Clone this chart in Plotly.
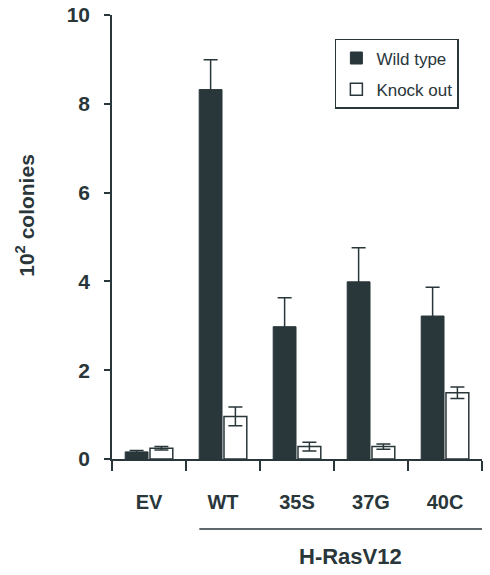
import plotly.graph_objects as go

categories = ["EV", "WT", "35S", "37G", "40C"]
wild_type = [0.16, 8.32, 2.98, 3.99, 3.22]
wild_type_err = [0.03, 0.67, 0.65, 0.77, 0.65]
knock_out = [0.24, 0.96, 0.28, 0.28, 1.49]
knock_out_err = [0.04, 0.21, 0.10, 0.06, 0.13]
y_ticks = [0, 2, 4, 6, 8, 10]

DARK = "#29363a"
FONT = "Liberation Sans, Arial, sans-serif"

fig = go.Figure()
fig.add_trace(go.Bar(
    name="Wild type", x=categories, y=wild_type,
    marker=dict(color=DARK, line=dict(color=DARK, width=1)),
    error_y=dict(type="data", array=wild_type_err, symmetric=True,
                 color=DARK, thickness=1.5, width=7),
    legendgroup="a",
))
fig.add_trace(go.Bar(
    name="Knock out", x=categories, y=knock_out,
    marker=dict(color="white", line=dict(color=DARK, width=1.5)),
    error_y=dict(type="data", array=knock_out_err, symmetric=True,
                 color=DARK, thickness=1.5, width=7),
    legendgroup="b",
))

fig.update_layout(
    width=490, height=575,
    margin=dict(l=111.5, r=7.5, t=15.3, b=115.7),
    plot_bgcolor="white", paper_bgcolor="white",
    barmode="group", bargap=0.33, bargroupgap=0.08,
    font=dict(family=FONT, color=DARK),
    showlegend=True,
    legend=dict(
        x=0.9375, xanchor="right", y=0.946, yanchor="top",
        bordercolor=DARK, borderwidth=1.5, bgcolor="white",
        font=dict(size=17, family=FONT, color=DARK),
        tracegroupgap=6, itemwidth=30,
    ),
    xaxis=dict(
        range=[-0.5, 4.5], showline=True, linecolor=DARK, linewidth=1.5,
        ticks="outside", tickson="boundaries", ticklen=10, tickwidth=1.5,
        tickcolor=DARK, showgrid=False, zeroline=False, automargin=False,
        tickfont=dict(size=20, family=FONT, color=DARK, weight="bold"),
        ticklabelstandoff=24,
    ),
    yaxis=dict(
        range=[0, 10], tickvals=y_ticks, showline=True, linecolor=DARK,
        linewidth=1.5, ticks="outside", ticklen=6, tickwidth=1.5,
        tickcolor=DARK, showgrid=False, zeroline=False, automargin=False,
        tickfont=dict(size=21, family=FONT, color=DARK, weight="bold"),
        ticklabelstandoff=10, ticklabeloverflow="allow",
    ),
)

fig.add_annotation(
    text="10<sup>2</sup> colonies", textangle=-90,
    xref="paper", yref="paper", x=-0.235, y=0.548,
    xanchor="center", yanchor="middle",
    showarrow=False, font=dict(size=21, family=FONT, color=DARK, weight="bold"),
)
fig.add_shape(
    type="line", xref="x", yref="paper", x0=0.68, x1=4.52, y0=-0.1577, y1=-0.1577,
    line=dict(color=DARK, width=1.5),
)
fig.add_annotation(
    text="H-RasV12", xref="x", yref="paper", x=2.72, y=-0.22,
    xanchor="center", yanchor="middle",
    showarrow=False, font=dict(size=22, family=FONT, color=DARK, weight="bold"),
)

fig.write_html("out.html", config={"displayModeBar": False},
               post_script="document.body.style.margin='0';")
